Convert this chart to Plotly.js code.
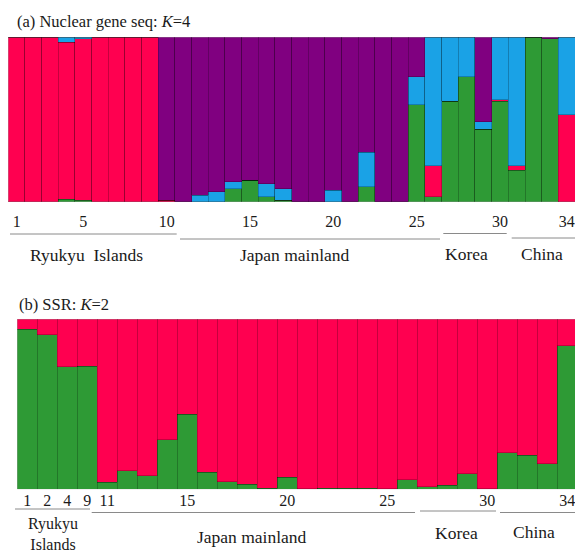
<!DOCTYPE html>
<html>
<head>
<meta charset="utf-8">
<script src="https://cdn.plot.ly/plotly-3.0.1.min.js"></script>
<style>html,body{margin:0;padding:0;background:#fff;overflow:hidden;}#chart{width:575px;height:554px;}</style>
</head>
<body>
<div id="chart"></div>
<script>
// ---------- Panel (a): Nuclear gene seq, K=4 ----------
var popsA = ['1','2','3','4','5','6','7','8','9','10','11','12','13','14','15','16','17','18','19','20','21','22','23','24','25','26','27','28','29','30','31','32','33','34'];
var greenA  = [0,0,0,0.015,0.01,0,0,0,0,0, 0,0,0,0.08,0.13,0.03,0.01,0,0,0, 0,0.09,0,0,0.59,0.03,0.61,0.76,0.44,0.61, 0.19,1.0,0.99,0];
var redA    = [1,1,1,0.955,0.98,1,1,1,1,0.01, 0,0,0,0,0,0,0,0,0,0, 0,0,0,0,0,0.19,0,0,0,0.01, 0.03,0,0,0.53];
var blueA   = [0,0,0,0.03,0.01,0,0,0,0,0, 0,0.04,0.06,0.04,0,0.08,0.07,0,0,0.07, 0,0.21,0,0,0.17,0.78,0.39,0.24,0.045,0.38, 0.78,0,0,0.47];
var purpleA = [0,0,0,0,0,0,0,0,0,0.99, 1,0.96,0.94,0.88,0.87,0.89,0.92,1,1,0.93, 1,0.70,1,1,0.24,0,0,0,0.515,0, 0,0,0.01,0];
var tickA = ['1','5','10','15','20','25','30','34'];
var groupsA = ['Ryukyu&nbsp; Islands','Japan mainland','Korea','China'];

// ---------- Panel (b): SSR, K=2 ----------
var popsB = ['1','2','4','9','11','12','13','14','15','16','17','18','19','20','21','22','23','24','25','26','27','28','29','30','31','32','33','34'];
var greenB = [0.94,0.91,0.72,0.725,0.04,0.11,0.08,0.29,0.44,0.10,0.045,0.03,0.005,0.07,0.003,0.005,0.005,0.005,0.003,0.055,0.016,0.025,0.09,0.003,0.215,0.20,0.15,0.845];
var redB   = [0.06,0.09,0.28,0.275,0.96,0.89,0.92,0.71,0.56,0.90,0.955,0.97,0.995,0.93,0.997,0.995,0.995,0.995,0.997,0.945,0.984,0.975,0.91,0.997,0.785,0.80,0.85,0.155];
var tickB = ['1','2','4','9','11','15','20','25','30','34'];
var groupsB = ['Ryukyu<br>Islands','Japan mainland','Korea','China'];

var C = {red:'#FF0050', purple:'#800080', blue:'#1AA2E6', green:'#2E9A35'};
var W = 575, H = 554;
function px(x){return x/W;}
function py(y){return 1 - y/H;}
var FONT = 'Liberation Serif, Times New Roman, serif';
var TXT = '#1a1a1a';
var edge = {color:'rgba(0,0,0,0.28)', width:0.8};

function bar(x, y, color, xa, ya){
  return {type:'bar', x:x, y:y, xaxis:xa, yaxis:ya, marker:{color:color, line:edge},
          hoverinfo:'skip', showlegend:false};
}

var data = [
  bar(popsA, greenA, C.green, 'x', 'y'),
  bar(popsA, redA, C.red, 'x', 'y'),
  bar(popsA, blueA, C.blue, 'x', 'y'),
  bar(popsA, purpleA, C.purple, 'x', 'y'),
  bar(popsB, greenB, C.green, 'x2', 'y2'),
  bar(popsB, redB, C.red, 'x2', 'y2')
];

var tickFont = {family:FONT, size:16, color:TXT};
var layout = {
  width:W, height:H, margin:{l:0,r:0,t:0,b:0},
  paper_bgcolor:'#fff', plot_bgcolor:'#fff',
  barmode:'stack', bargap:0,
  font:{family:FONT, color:TXT},
  xaxis:{domain:[px(8.3),1], type:'category', range:[-0.5,33.5], tickvals:tickA, ticktext:tickA,
         showgrid:false, zeroline:false, showline:false, ticks:'', tickfont:tickFont, ticklabelstandoff:8, fixedrange:true},
  yaxis:{domain:[py(201.7),py(37.3)], range:[0,1], visible:false, fixedrange:true},
  xaxis2:{domain:[px(17.3),1], type:'category', range:[-0.5,27.385], tickvals:tickB, ticktext:tickB, anchor:'y2',
         showgrid:false, zeroline:false, showline:false, ticks:'', tickfont:tickFont, ticklabelstandoff:0, fixedrange:true},
  yaxis2:{domain:[py(489.3),py(319.3)], range:[0,1], visible:false, anchor:'x2', fixedrange:true},
  shapes:[],
  annotations:[]
};

// group underlines (paper px coords)
var lineSpecsA = [[10,176.7,234],[180,440,239],[443.3,506.7,233.5],[511.7,575,238]];
var lineSpecsB = [[15,90,509],[91.7,415,512.5],[420,496,511],[500,575,512.5]];
lineSpecsA.concat(lineSpecsB).forEach(function(s){
  layout.shapes.push({type:'line', xref:'paper', yref:'paper', x0:px(s[0]), x1:px(s[1]), y0:py(s[2]), y1:py(s[2]),
                      line:{color:'#8a8a8a', width:1}});
});

var labelFont = {family:FONT, size:17.5, color:TXT};
var labelPosA = [[86.7,255],[295,255],[466,254],[542,254]];
var labelPosB = [[53,554],[252,537],[456,533],[534,532]];
groupsA.forEach(function(t,i){
  layout.annotations.push({text:t, xref:'paper', yref:'paper', x:px(labelPosA[i][0]), y:py(labelPosA[i][1]),
    xanchor:'center', yanchor:'middle', showarrow:false, font:labelFont});
});
groupsB.forEach(function(t,i){
  var multi = t.indexOf('<br>') >= 0;
  layout.annotations.push({text:t, xref:'paper', yref:'paper', x:px(labelPosB[i][0]), y:py(labelPosB[i][1]),
    xanchor:'center', yanchor: multi ? 'bottom' : 'middle', borderpad:0, showarrow:false,
    font: multi ? {family:FONT, size:16, color:TXT} : labelFont});
});

// panel titles
layout.annotations.push({text:'(a) Nuclear gene seq: <i>K</i>=4', xref:'paper', yref:'paper', x:px(15), y:py(21.5),
  xanchor:'left', yanchor:'middle', showarrow:false, font:{family:FONT, size:16.5, color:TXT}});
layout.annotations.push({text:'(b) SSR: <i>K</i>=2', xref:'paper', yref:'paper', x:px(16.5), y:py(304),
  xanchor:'left', yanchor:'middle', showarrow:false, font:{family:FONT, size:16.5, color:TXT}});

Plotly.newPlot('chart', data, layout, {displayModeBar:false, staticPlot:true});
</script>
</body>
</html>
